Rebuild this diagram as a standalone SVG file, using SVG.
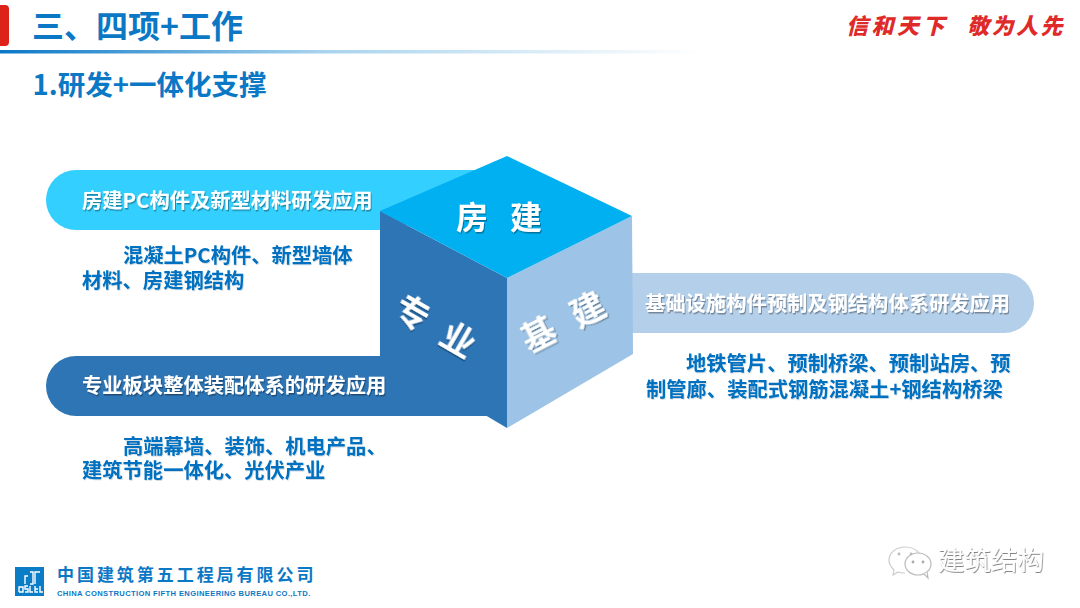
<svg xmlns="http://www.w3.org/2000/svg" width="1080" height="608" viewBox="0 0 1080 608">
<defs>
<linearGradient id="rule" x1="0" x2="1" y1="0" y2="0"><stop offset="0" stop-color="#0b78c6"/><stop offset="0.3" stop-color="#a9d3ee"/><stop offset="0.65" stop-color="#ffffff"/></linearGradient>
<filter id="sh" x="-10%" y="-30%" width="120%" height="160%"><feDropShadow dx="1" dy="1.5" stdDeviation="0.7" flood-color="#000" flood-opacity="0.35"/></filter>
<filter id="shb" x="-10%" y="-30%" width="120%" height="160%"><feDropShadow dx="0.8" dy="1" stdDeviation="0.7" flood-color="#06345c" flood-opacity="0.18"/></filter>
<filter id="em" x="-10%" y="-30%" width="120%" height="160%"><feDropShadow dx="0.6" dy="0.8" stdDeviation="0.5" flood-color="#555" flood-opacity="0.9"/></filter>
</defs>
<style>
text{font-family:"Noto Sans CJK SC","Liberation Sans",sans-serif;font-weight:700}
.bar{fill:#fff;font-size:20.3px;filter:url(#sh)}
.body{fill:#0070c0;font-size:20.3px;filter:url(#shb)}
.cube{fill:#fff;font-size:32px;filter:url(#sh)}
.side{fill:#fff;font-size:34px;filter:url(#sh);text-anchor:middle}
.h{fill:#0b78c6}
.en{font-family:"Liberation Sans",sans-serif}
</style>
<rect width="1080" height="608" fill="#fff"/>
<g id="header">
<rect x="-8" y="5" width="17" height="41" rx="4" fill="#dd2219"/>
<rect x="0" y="50" width="1080" height="3.5" fill="url(#rule)"/>
<text class="h" x="32" y="38" font-size="32">三、四项+工作</text>
<text class="h" x="32.5" y="95" font-size="27.5">1.研发+一体化支撑</text>
<text x="846" y="34" font-size="22" letter-spacing="3.5" fill="#df2a2a" font-style="italic" style="font-weight:900">信和天下</text>
<text x="967" y="34" font-size="22" letter-spacing="2.5" fill="#df2a2a" font-style="italic" style="font-weight:900">敬为人先</text>
</g>
<g id="bar-fangjian">
<path d="M480 170H76a30 30 0 0 0 0 60H400z" fill="#33cfff"/>
</g>
<g id="bar-zhuanye">
<path d="M400 356H76a30 30 0 0 0 0 60H490z" fill="#2e75b6"/>
</g>
<g id="bar-jijian">
<path d="M625 273H1004a30 30 0 0 1 0 60H625z" fill="#b4cfea"/>
<text class="bar" x="645" y="311">基础设施构件预制及钢结构体系研发应用</text>
</g>
<g id="cube">
<polygon points="380,211 507,278 507,428 485,415 380,415" fill="#2e75b6"/>
<polygon points="507,278 632,216 633,354 507,428" fill="#9dc3e6"/>
<polygon points="507,156 632,216 507,278 380,211" fill="#00b0f0"/>
<text class="cube" x="456" y="229">房</text>
<text class="cube" x="510" y="229">建</text>
<text class="side" transform="translate(412 313) rotate(30)" y="12">专</text>
<text class="side" transform="translate(458 340) rotate(30)" y="12">业</text>
<text class="side" transform="translate(539 335) rotate(-27)" y="12">基</text>
<text class="side" transform="translate(588 310) rotate(-27)" y="12">建</text>
</g>
<g id="copy">
<text class="bar" x="82" y="208">房建PC构件及新型材料研发应用</text>
<text class="bar" x="82" y="393">专业板块整体装配体系的研发应用</text>
<text class="body" x="123" y="263">混凝土PC构件、新型墙体</text>
<text class="body" x="82" y="288">材料、房建钢结构</text>
<text class="body" x="686" y="371">地铁管片、预制桥梁、预制站房、预</text>
<text class="body" x="646" y="397">制管廊、装配式钢筋混凝土+钢结构桥梁</text>
<text class="body" x="123" y="454">高端幕墙、装饰、机电产品、</text>
<text class="body" x="82" y="478">建筑节能一体化、光伏产业</text>
</g>
<g id="footer">
<rect x="15" y="567" width="29" height="29" fill="#0b7cc6"/>
<g fill="none" stroke="#fff" stroke-width="1.4">
<path d="M25 584V576H28M30 584H33V572H30M35 584V572H40M19 592V587H23V592H19M25 592H28V589H25V586H28M30 586V592H33M35 586V592H38M35 589H38M40 586V592H43"/>
</g>
<text class="h" x="57" y="581" font-size="17" letter-spacing="2.95">中国建筑第五工程局有限公司</text>
<text class="h en" x="57" y="596" font-size="7.6" letter-spacing="0.75" textLength="254">CHINA CONSTRUCTION FIFTH ENGINEERING BUREAU CO.,LTD.</text>
</g>
<g id="watermark">
<path d="M905 547c-9 0-16 6-16 13 0 4 2 7 5 10l-1 5 5-3c2 1 5 1 7 1" fill="#fff" stroke="#ccc" stroke-width="1.2"/>
<path d="M905 547c8 0 14 4 16 10" fill="none" stroke="#ccc" stroke-width="1.2"/>
<ellipse cx="918" cy="564" rx="13" ry="11" fill="#fff" stroke="#bbb" stroke-width="1.2"/>
<path d="M924 574l4 4-1-6" fill="#fff" stroke="#bbb" stroke-width="1.2"/>
<circle cx="899" cy="554" r="1.4" fill="#bbb"/><circle cx="911" cy="554" r="1.4" fill="#bbb"/>
<circle cx="913" cy="562" r="1.4" fill="#aaa"/><circle cx="923" cy="562" r="1.4" fill="#aaa"/>
<text x="938" y="570" font-size="26.5" fill="#fff" style="font-weight:400;filter:url(#em)">建筑结构</text>
</g>
</svg>
